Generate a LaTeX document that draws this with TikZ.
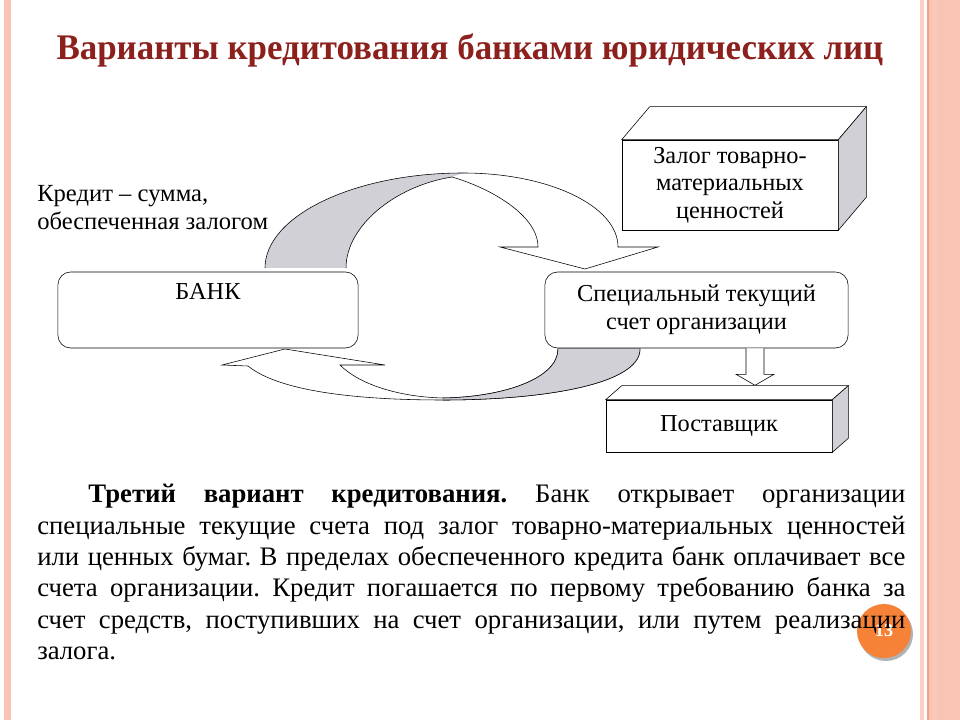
\documentclass[tikz,border=0pt]{standalone}
\usepackage{fontspec}
\setmainfont{Liberation Serif}
\usepackage{xcolor}
\usetikzlibrary{calc, positioning}
\definecolor{titlered}{RGB}{140, 32, 28}
\definecolor{framepink}{RGB}{248, 196, 180}
\definecolor{framedark}{RGB}{238, 160, 132}
\definecolor{shadegray}{RGB}{208, 208, 214}
\definecolor{pageorange}{RGB}{245, 130, 55}

\begin{document}
\begin{tikzpicture}[x=0.025cm, y=-0.025cm,
    title/.style={font=\fontsize{25.6}{30}\selectfont\bfseries, text=titlered},
    acct/.style={draw, rounded corners=9pt, fill=white, align=center, minimum width=7.5cm, minimum height=1.9cm, font=\fontsize{17.3}{20}\selectfont},
    cube/.style={draw, fill=white, align=center, inner sep=0pt, font=\fontsize{17.3}{19.6}\selectfont},
    ribbon/.style={draw, fill=white, line join=miter},
    note/.style={align=left, inner sep=0pt, font=\fontsize{17.5}{20}\selectfont},
    body/.style={text width=21.7cm, align=justify, inner sep=0pt, font=\fontsize{19}{22.3}\selectfont}
]
\useasboundingbox (0,0) rectangle (960,720);

% Slide frame
\fill[white] (0,0) rectangle (960,720);
\fill[framepink] (4,0) rectangle (11,720);
\fill[framepink!80] (920,0) rectangle (924,720);
\fill[framepink] (927,0) rectangle (960,720);
\fill[framedark] (927,0) rectangle (929,720);
\fill[framedark!55] (933,0) rectangle (937,720);

% Title
\node[title] (ttl) at (470,50) {\scalebox{0.97}[1]{Варианты кредитования банками юридических лиц}};

% Upper ribbon (bank -> account)
\fill[shadegray] (265,268) .. controls (265,216) and (354,173) .. (463,173)
    -- (452,177) .. controls (395,186) and (346,226) .. (346,268) -- cycle;
\draw[ribbon, fill=none] (265,268) .. controls (265,216) and (354,173) .. (463,173)
    .. controls (549,173) and (618,206) .. (618,247) -- (658,247) -- (585,269)
    -- (500,247) -- (538,247) .. controls (538,215) and (490,188) .. (452,177)
    .. controls (395,186) and (346,226) .. (346,268);

% Lower ribbon (account -> bank)
\draw[ribbon] (248,366) .. controls (280,392) and (360,400) .. (443,400)
    .. controls (540,400) and (640,385) .. (640,349) -- (558,349)
    .. controls (558,378) and (505,397) .. (443,398)
    .. controls (400,397) and (360,385) .. (340,365) -- (385,365)
    -- (285,349) -- (222,365) -- cycle;
\fill[shadegray] (443,400) .. controls (540,400) and (640,385) .. (640,349) -- (558,349)
    .. controls (558,378) and (505,397) .. (443,398) -- cycle;
\draw (443,400) .. controls (540,400) and (640,385) .. (640,349);
\draw (558,349) .. controls (558,378) and (505,397) .. (443,398);

% Accounts
\node[acct] (bank) at (208,310) {БАНК\\\strut};
\node[acct, minimum width=7.575cm] (spec) at (696.5,310) {Специальный текущий\\счет организации};

% Boxes
\node[cube, minimum width=5.4cm, minimum height=2.25cm] (zal) at (730,185) {Залог товарно-\\материальных\\ценностей};
\node[cube, minimum width=5.65cm, minimum height=1.3cm] (post) at (719,426) {Поставщик};
\foreach \n/\dx/\dy in {zal/28/33, post/16/14} {
    \draw[fill=white] (\n.north west) -- ($(\n.north west)+(\dx,-\dy)$) -- ($(\n.north east)+(\dx,-\dy)$) -- (\n.north east) -- cycle;
    \draw[fill=shadegray] (\n.north east) -- ($(\n.north east)+(\dx,-\dy)$) -- ($(\n.south east)+(\dx,-\dy)$) -- (\n.south east) -- cycle;
}

% Account -> supplier
\coordinate (dn) at ($(spec.south)+(58.5,0)$);
\draw[fill=white] ($(dn)+(-9,0)$) -- ++(0,26) -- ++(-10,0) -- ($(dn)+(0,37)$) -- ++(19,-11) -- ++(-10,0) -- ($(dn)+(9,0)$);

% Side note
\node[note, anchor=north west] (cr) at (37,185) {Кредит – сумма,\\обеспеченная залогом};

% Page number
\fill[gray!60] (886,634) circle (27);
\fill[pageorange] (884,631) circle (27);
\node[text=white, font=\fontsize{13}{15}\selectfont\bfseries] (pg) at (884,631) {13};

% Text
\node[body, anchor=north west] (txt) at (37,484) {\frenchspacing\hspace*{1.28cm}\textbf{Третий вариант кредитования.} Банк открывает организации\linebreak
специальные текущие счета под залог товарно-материальных ценностей\linebreak
или ценных бумаг. В пределах обеспеченного кредита банк оплачивает все\linebreak
счета организации. Кредит погашается по первому требованию банка за\linebreak
счет средств, поступивших на счет организации, или путем реализации\linebreak
залога.};

\end{tikzpicture}
\end{document}
